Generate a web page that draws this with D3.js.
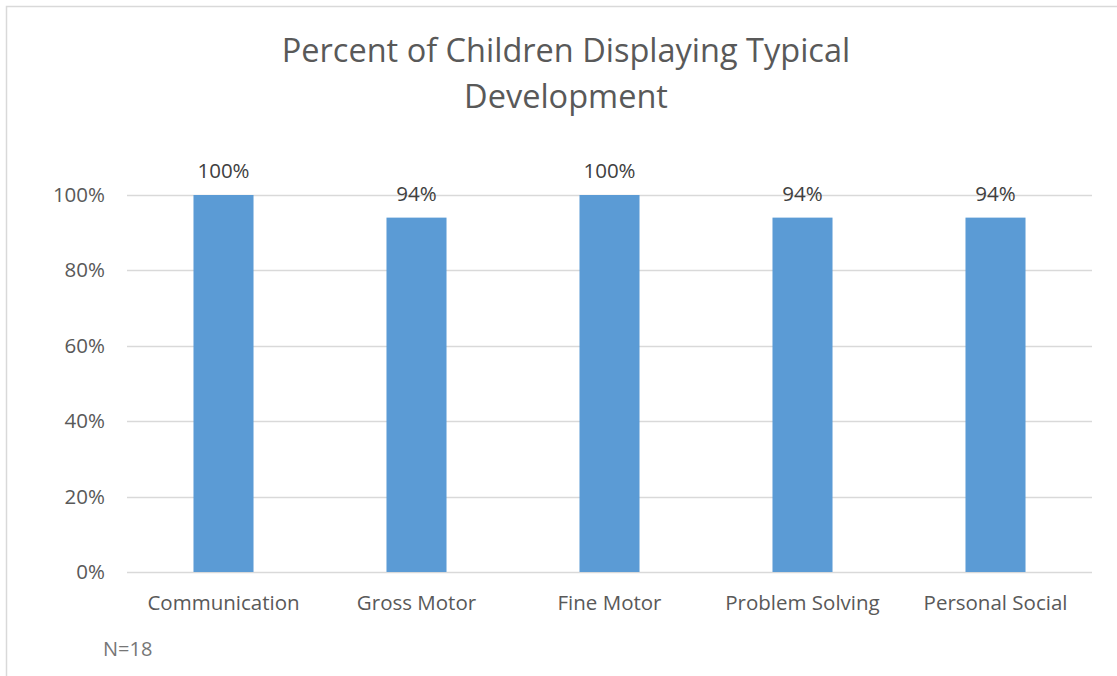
<!DOCTYPE html>
<html>
<head>
<meta charset="utf-8">
<script src="https://cdn.jsdelivr.net/npm/d3@7"></script>
<style>
  html, body { margin: 0; padding: 0; background: #fff; }
  svg { display: block; font-family: "Open Sans", "Noto Sans", sans-serif; }
</style>
</head>
<body>
<svg id="chart" width="1117" height="676"></svg>
<script>
// Development domains and share of children on track
const categories = ["Communication", "Gross Motor", "Fine Motor", "Problem Solving", "Personal Social"];
const values = [1.00, 0.94, 1.00, 0.94, 0.94];
const valueLabels = ["100%", "94%", "100%", "94%", "94%"];
const yTicks = [0, 0.2, 0.4, 0.6, 0.8, 1.0];
const titleLines = ["Percent of Children Displaying Typical", "Development"];
const note = "N=18";

const svg = d3.select("#chart");

// Outer chart frame
svg.append("rect")
  .attr("x", 6.5).attr("y", 6.5)
  .attr("width", 1130).attr("height", 690)
  .attr("fill", "#fff")
  .attr("stroke", "#d9d9d9")
  .attr("stroke-width", 1.5);

const plot = { left: 127, right: 1092, top: 195, bottom: 572 };

const x = d3.scaleBand()
  .domain(categories)
  .range([plot.left, plot.right])
  .paddingInner(0.689)
  .paddingOuter(0.3445);

const y = d3.scaleLinear()
  .domain([0, 1])
  .range([plot.bottom, plot.top]);

// Horizontal gridlines
svg.append("g")
  .selectAll("line")
  .data(yTicks)
  .join("line")
  .attr("x1", plot.left).attr("x2", plot.right)
  .attr("y1", d => Math.round(y(d)) + 0.5)
  .attr("y2", d => Math.round(y(d)) + 0.5)
  .attr("stroke", "#d9d9d9")
  .attr("stroke-width", 1.5);

// Y axis labels
const yAxis = d3.axisLeft(y)
  .tickValues(yTicks)
  .tickFormat(d3.format(".0%"))
  .tickSize(0)
  .tickPadding(22);
const yg = svg.append("g")
  .attr("transform", `translate(${plot.left},0)`)
  .call(yAxis);
yg.select(".domain").remove();
yg.selectAll("text")
  .attr("fill", "#595959")
  .style("font-size", "20.5px")
  .style("font-family", "\"Open Sans\", sans-serif");

// X axis labels
const xAxis = d3.axisBottom(x).tickSize(0).tickPadding(23);
const xg = svg.append("g")
  .attr("transform", `translate(0,${plot.bottom})`)
  .call(xAxis);
xg.select(".domain").remove();
xg.selectAll("text")
  .attr("fill", "#595959")
  .style("font-size", "20.5px")
  .style("font-family", "\"Open Sans\", sans-serif");

// Bars
svg.append("g")
  .selectAll("rect")
  .data(categories)
  .join("rect")
  .attr("x", d => x(d))
  .attr("width", x.bandwidth())
  .attr("y", (d, i) => y(values[i]))
  .attr("height", (d, i) => y(0) - y(values[i]))
  .attr("fill", "#5b9bd5");

// Value labels above bars
svg.append("g")
  .selectAll("text")
  .data(categories)
  .join("text")
  .attr("x", d => x(d) + x.bandwidth() / 2)
  .attr("y", (d, i) => y(values[i]) - 17)
  .attr("text-anchor", "middle")
  .attr("fill", "#404040")
  .style("font-size", "20.5px")
  .text((d, i) => valueLabels[i]);

// Title
svg.append("g")
  .selectAll("text")
  .data(titleLines)
  .join("text")
  .attr("x", 566)
  .attr("y", (d, i) => 62 + i * 46)
  .attr("text-anchor", "middle")
  .attr("fill", "#595959")
  .style("font-size", "32.5px")
  .text(d => d);

// Sample size note
svg.append("text")
  .attr("x", 103)
  .attr("y", 656)
  .attr("fill", "#767676")
  .style("font-size", "20px")
  .text(note);
</script>
</body>
</html>
